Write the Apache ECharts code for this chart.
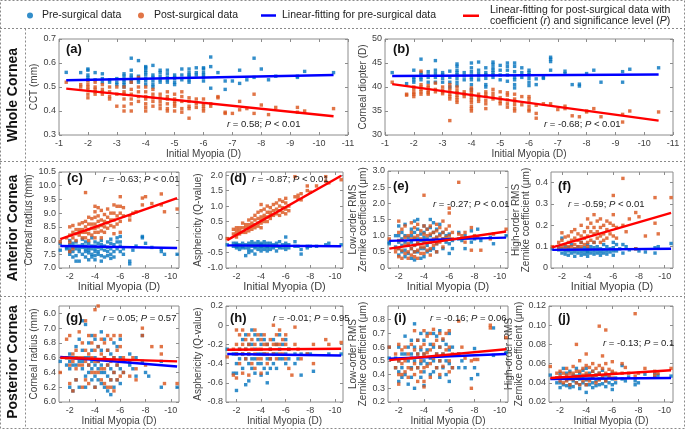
<!DOCTYPE html>
<html><head><meta charset="utf-8">
<script src="https://cdn.jsdelivr.net/npm/echarts@6/dist/echarts.min.js"></script>
<style>html,body{margin:0;padding:0;background:#fff}#c{width:685px;height:429px}</style>
</head><body><div id="c"></div><script>
// ---- data: rows are [myopia, y1, y2, ...] ----
const preA=[[-1.25,.561],[-1.75,.56],[-2,.575,.57,.55,.54,.53],[-2.25,.56,.53],[-2.5,.555,.535,.52],[-2.75,.53,.52],[-3,.535,.52,.51],[-3.25,.555,.545,.53,.52,.51,.5],[-3.5,.62,.57,.55,.54,.53,.52],[-3.75,.61,.545,.53,.52],[-4,.585,.58,.57,.56,.55,.535,.525,.51],[-4.25,.59,.55,.54,.525,.51,.5],[-4.5,.57,.56,.545,.53,.52],[-4.75,.57,.555,.54,.53,.52],[-5,.55,.54,.535,.52,.51],[-5.25,.575,.55,.53],[-5.5,.575,.56,.55,.545,.53,.52],[-5.75,.58,.56,.55],[-6,.58,.575,.56,.55,.54,.525],[-6.25,.625,.585,.495],[-6.5,.56],[-6.75,.525,.49],[-7,.525],[-7.25,.57,.515],[-7.5,.53],[-7.75,.62,.54],[-8,.575],[-8.25,.53],[-8.5,.545],[-9.25,.54,.545],[-9.5,.565],[-10.5,.56]];
const postA=[[-1.25,.52],[-1.75,.51,.5],[-2,.525,.51,.5,.49,.47,.455],[-2.25,.52,.5,.49,.48,.47],[-2.5,.51,.49,.48,.47],[-2.75,.5,.48,.46,.45],[-3,.5,.47,.42],[-3.25,.5,.48,.47,.45,.42,.4],[-3.5,.52,.49,.47,.45,.43,.4],[-3.75,.54,.5,.48,.46,.44],[-4,.5,.48,.46,.45,.43,.415,.4],[-4.25,.49,.47,.455,.44,.42],[-4.5,.47,.455,.44,.425,.41],[-4.75,.48,.46,.45,.43,.41,.4],[-5,.47,.45,.44,.43,.42,.4],[-5.25,.48,.46,.44,.41,.395],[-5.5,.455,.44,.42,.41,.37],[-5.75,.45,.43,.415],[-6,.45,.43,.42,.41,.4],[-6.25,.43,.42],[-6.5,.46,.455],[-6.75,.395,.39],[-7,.39],[-7.25,.44,.405],[-7.5,.41],[-7.75,.47,.39],[-8,.425],[-8.25,.385],[-8.5,.415],[-9.25,.415,.395],[-9.5,.4],[-10.5,.41]];
const preB=[[-1.25,43],[-1.75,40.7],[-2,43.5,42,41.5,41],[-2.25,45.8,43,42.5,42,41.5],[-2.5,43.2,42.5,42,41],[-2.75,45.5,43.5,42.8,42,41],[-3,43,42.5,41.8,41],[-3.25,43.3,42,41,40],[-3.5,44.8,44.3,43.5,43,42.5,41.8,41,40.3],[-3.75,43,42.3,41.5],[-4,45,44,43.2,42.5,42,41.5,40.5,39.5],[-4.25,45.2,43.5,42.8,42.3,41.5],[-4.5,44,43,42.5,41.8,40.5,40],[-4.75,45.2,44.7,44,43.5,43,42.5,42],[-5,44.5,43.5,42.5,41.5],[-5.25,45,44.3,43.5,42.5,41.2],[-5.5,45,44.3,43.2,42,41.5,40.5,39.8],[-5.75,44,43,42],[-6,43.5,43,42.5,41.8,41,40.3],[-6.25,41.7,40.5],[-6.5,42,41.8],[-6.75,46.2,45.8,45.3,43.5],[-7.25,43.3,42.8],[-7.5,40.5],[-7.75,40.6,40.2],[-8,42.8],[-8.25,43.5],[-8.5,41],[-9.25,43.2,41],[-9.5,43.7],[-10.5,44]];
const postB=[[-1.25,41],[-1.75,38.5,38.3],[-2,40,39.5,38.8,38.5,38],[-2.25,43.3,40.5,40,39.5,39,38.5],[-2.5,40.3,39.8,39.2,38.8,38.5],[-2.75,40.8,39.5,39],[-3,40,39.3,39,38.6],[-3.25,40.5,39.8,39.2,38.5,38,37.5,33],[-3.5,40,39.3,38.8,38.3,37.8,37.3,36.8],[-3.75,39,38.5,38],[-4,39.8,39.3,38.8,38.3,37.8,37.3,36.8,36,35.5,35],[-4.25,38.5,38,37.5,37],[-4.5,39,38.5,38,37.2,36.5,35.5],[-4.75,39.5,38.7,38,37.5],[-5,39,37.8,37,36.5],[-5.25,38.8,38.3,37.3,36.5,35.8],[-5.5,38.5,37.5,37,36.3,35.5,35],[-5.75,38,36.3],[-6,38,37.5,36.8,36,35.3,35],[-6.25,36.2,34.5,33.5],[-6.5,36.5],[-6.75,36.5],[-7,35.3],[-7.25,36,35.5],[-7.5,34],[-7.75,33.8],[-8,35,34.8],[-8.25,35.5],[-8.5,33.8],[-9.25,34.3,32.7],[-9.5,35],[-10.5,34.8]];
const preC=[[-1.25,7.65,7.9],[-1.75,7.75,7.7],[-2,8,7.85,7.7,7.6,7.5],[-2.25,7.9,7.75,7.6,7.4],[-2.5,7.95,7.8,7.7,7.45,7.25],[-2.75,7.8,7.7,7.6,7.25],[-3,8.05,7.85,7.75,7.5],[-3.25,7.95,7.8,7.7,7.6,7.4],[-3.5,7.9,7.75,7.65,7.55,7.3],[-3.75,8.1,7.8,7.7,7.5,7.4],[-4,7.95,7.8,7.7,7.6,7.45,7.3],[-4.25,7.9,7.75,7.6,7.5],[-4.5,8,7.85,7.7,7.45,7.25],[-4.75,7.8,7.65,7.4],[-5,7.95,7.75,7.6,7.45],[-5.25,8.05,7.9,7.7,7.5,7.35],[-5.5,7.85,7.6,7.4],[-5.75,8.1,7.95,7.7],[-6,8.15,7.95,7.8,7.6],[-6.25,7.7,7.5],[-6.75,7.25,7.15],[-7,7.65],[-7.25,7.8],[-7.75,8.15,8.1],[-8,7.9],[-8.5,7.75],[-9.25,7.6,7.7],[-9.5,7.5],[-10.5,7.5]];
const postC=[[-1.25,7.95],[-1.75,8.1],[-2,8.5,8.2,7.95,7.6],[-2.25,8.55,8.3,8.1,7.7],[-2.5,8.4,8.25,8],[-2.75,8.6,8.4,8.2,8.3],[-3,8.65,8.4,8.3,8.1],[-3.25,9.75,8.7,8.5,8.3,8.1],[-3.5,8.85,8.6,8.4,8.25,8],[-3.75,8.8,8.6,8.45,8.2],[-4,9.25,9.05,8.85,8.6,8.45,8.3,8.1],[-4.25,9.2,8.9,8.7,8.5,8.3],[-4.5,9.1,8.75,8.55,8.35,8.1],[-4.75,8.95,8.7,8.5,8.3],[-5,9.15,8.85,8.65,8.45],[-5.25,9,8.75,8.55],[-5.5,9.3,9,8.75,8.5,8.25],[-5.75,9.25,8.9,8.6],[-6,9.6,9.25,9,8.7,8.3],[-6.25,9.2,8.9],[-6.75,8.9,8.75],[-7,9],[-7.25,9.05],[-7.75,9.55,9.3],[-8,9.6],[-8.5,9.35],[-9.25,9.7,9.3],[-9.5,9.05],[-10.5,9.15]];
const preD=[[-1.25,-.25],[-1.75,-.2,-.3],[-2,-.2,-.25,-.3,-.35],[-2.25,-.25,-.3,-.4],[-2.5,-.2,-.3,-.35],[-2.75,-.25,-.35,-.6],[-3,-.2,-.3,-.4,-.5],[-3.25,-.15,-.25,-.3,-.45],[-3.5,-.2,-.3,-.35,-.55],[-3.75,-.15,-.25,-.3,-.4],[-4,-.2,-.25,-.3,-.35,-.45],[-4.25,-.15,-.25,-.3,-.4],[-4.5,-.2,-.3,-.35,-.45],[-4.75,-.2,-.3,-.4],[-5,-.25,-.3,-.35],[-5.25,-.2,-.3,-.45],[-5.5,-.15,-.3,-.35],[-5.75,-.25,-.35],[-6,0,-.2,-.3,-.4],[-6.25,-.25,-.35],[-6.75,-.15,-.3],[-7,-.3],[-7.25,-.4,-.55],[-7.75,-.3,-.35],[-8,-.3],[-8.5,-.3],[-9.25,-.25],[-9.5,-.2],[-10.5,-.25]];
const postD=[[-1.25,-.05],[-1.75,.1,.25],[-2,.3,.2,.1,0],[-2.25,.3,.2,.1],[-2.5,.45,.3,.15],[-2.75,.4,.3,.15],[-3,.55,.4,.3,.2],[-3.25,.6,.45,.35,.25],[-3.5,.7,.55,.4,.3],[-3.75,.8,.6,.45,.35],[-4,1.05,.85,.65,.55,.45,.3],[-4.25,.9,.7,.6,.5],[-4.5,1,.8,.65,.5],[-4.75,.95,.8,.7,.6],[-5,1.05,.85,.7],[-5.25,1.1,.9,.75],[-5.5,1.2,1,.85,.7],[-5.75,1.15,.95,.8],[-6,1.25,1.1,.9,.75],[-6.25,1,.85],[-6.75,1.95,1.3],[-7,1.25,1.35],[-7.25,1.4,1.2],[-7.75,1.65,1.5],[-8,1.45],[-8.5,1.65],[-9.25,1.95,1.8],[-9.5,1.75],[-10.5,1.85]];
const preE=[[-1.25,.8,.75],[-1.75,1,.65],[-2,1.3,1,.8,.6,.4],[-2.25,1.1,.9,.7,.5],[-2.5,1.35,1,.8,.55,.35],[-2.75,.95,.7,.45],[-3,1.2,1,.8,.6,.3],[-3.25,1.45,1.1,.9,.7,.5,.25],[-3.5,1.5,1.2,.9,.75,.5],[-3.75,1.05,.85,.6,.3],[-4,1.3,1.1,.95,.8,.6,.35],[-4.25,1.2,.9,.7,.5],[-4.5,1.5,1.25,1,.8,.55],[-4.75,1.4,1.1,.85,.6],[-5,1.2,.95,.75,.5],[-5.25,1.35,1.05,.85],[-5.5,1.1,.9,.6],[-5.75,1,.8],[-6,1.05,.9,.75,.45],[-6.25,.85,.6],[-6.75,1.1,.9],[-7,.85],[-7.25,1,.6],[-7.75,1.15,.8],[-8,.9],[-8.25,1.2],[-8.5,.85],[-9.25,.95],[-9.5,.75],[-10.5,1]];
const postE=[[-1.25,.9],[-1.75,.6,.5],[-2,1.45,1.1,.85,.6,.35],[-2.25,1.2,.85,.55,.3],[-2.5,1.3,.95,.7,.45],[-2.75,1,.75,.5,.3],[-3,1.4,1.1,.9,.6,.4],[-3.25,1.25,.95,.7,.5,.35],[-3.5,1.35,1,.8,.55,.3],[-3.75,1.15,.9,.65,.45],[-4,2.25,1.3,1.05,.85,.65,.45],[-4.25,1.2,1,.8,.55],[-4.5,1.3,1.05,.85,.6,.4],[-4.75,1.1,.9,.7],[-5,1.35,1.15,.95,.75,.5],[-5.25,1.25,1,.8],[-5.5,1.45,1.1,.9,.65],[-5.75,1.2,.95],[-6,1.85,1.7,1.3,1],[-6.25,1.1,.9],[-6.75,2.65,1.05],[-7,1],[-7.25,1.1,.8],[-7.75,.55,1.25],[-8,1],[-8.25,.95],[-8.5,.55],[-9.25,.9],[-9.5,1.05],[-10.5,1.2]];
const preF=[[-1.25,.09],[-1.75,.085,.1],[-2,.14,.09,.07],[-2.25,.1,.08,.065],[-2.5,.095,.08,.06],[-2.75,.11,.085,.07],[-3,.09,.075,.055],[-3.25,.1,.085,.07],[-3.5,.12,.09,.075,.06],[-3.75,.095,.08,.065],[-4,.11,.09,.08,.07,.055],[-4.25,.1,.085,.07],[-4.5,.12,.095,.08,.065],[-4.75,.1,.085,.07],[-5,.09,.075,.06],[-5.25,.11,.085,.07],[-5.5,.1,.08,.065],[-5.75,.09,.075],[-6,.12,.095,.08,.06],[-6.25,.11,.08],[-6.5,.09],[-6.75,.11,.07],[-7,.1],[-7.25,.085],[-7.75,.09],[-8,.08],[-8.5,.075],[-9.25,.095,.07],[-9.5,.1],[-10.5,.115]];
const postF=[[-1.25,.1],[-1.75,.12,.09],[-2,.165,.13,.1],[-2.25,.145,.11,.09],[-2.5,.15,.12,.1],[-2.75,.17,.13,.1],[-3,.18,.14,.11,.09],[-3.25,.16,.13,.1],[-3.5,.2,.15,.12,.1],[-3.75,.17,.14,.11],[-4,.23,.19,.15,.12,.1],[-4.25,.21,.17,.13],[-4.5,.25,.19,.16,.12],[-4.75,.22,.17,.14],[-5,.23,.19,.15,.12],[-5.25,.2,.16,.13],[-5.5,.22,.18,.14],[-5.75,.21,.16],[-6,.34,.25,.2,.15],[-6.25,.19,.14],[-6.75,.42,.2],[-7,.17],[-7.25,.23],[-7.75,.26,.09],[-8,.24],[-8.5,.15],[-9.25,.33,.21],[-9.5,.16],[-10.5,.33]];
const preG=[[-1.25,6.55],[-1.75,6.6,6.5],[-2,6.65,6.55,6.45,6.2],[-2.25,6.6,6.5,6.15],[-2.5,6.75,6.6,6.5,6.3],[-2.75,6.85,6.55,6.2],[-3,7.1,6.7,6.55,6.45],[-3.25,7.05,6.6,6.35,6.2],[-3.5,6.8,6.6,6.5,6.4],[-3.75,6.9,6.7,6.55,6.45,6.3],[-4,6.85,6.6,6.5,6.35,6.2],[-4.25,6.75,6.55,6.45,6.3],[-4.5,6.95,6.7,6.5,6.4,6.25],[-4.75,6.85,6.6,6.4,6.2],[-5,6.7,6.5,6.35,6.15],[-5.25,6.65,6.45,6.3,6.1],[-5.5,6.8,6.6,6.4,6.2],[-5.75,6.75,6.5,6.3],[-6,6.85,6.6,6.45,6.25],[-6.25,6.55,6.4],[-6.75,6.65,6.5],[-7,6.45],[-7.25,6.6,6.35],[-7.75,6.9,6.55],[-8,6.4],[-8.25,6.35],[-9.25,6.55,6.2],[-10.5,6.2]];
const postG=[[-1.25,6.4],[-1.75,6.6,6.85],[-2,6.9,6.6,6.5,6.25],[-2.25,6.65,6.55,6.15],[-2.5,6.7,6.6,6.45,6.3],[-2.75,6.95,6.6,6.5],[-3,6.8,6.6,6.5,6.2],[-3.25,7.1,6.7,6.55,6.3],[-3.5,6.9,6.65,6.5,6.25],[-3.75,6.8,6.6,6.4],[-4,7.25,6.9,6.7,6.55,6.4,6.2],[-4.25,7.3,6.75,6.55,6.4],[-4.5,6.85,6.65,6.45,6.3],[-4.75,6.8,6.6,6.45,6.25],[-5,6.9,6.7,6.5,6.2],[-5.25,6.85,6.55,6.3,6.2],[-5.5,6.9,6.6,6.4,6.15],[-5.75,6.7,6.5,6.3],[-6,6.9,6.75,6.55,6.35],[-6.25,6.6,6.4],[-6.75,6.55,6.35],[-7,6.6],[-7.25,6.45,6.3],[-7.75,7,6.9],[-8,6.5],[-8.5,6.75],[-9.25,6.75,6.65],[-9.5,6.25],[-10.5,6.25]];
const preH=[[-1.25,-.25],[-1.75,-.3,-.5],[-2,-.3,-.4,-.5,-.68],[-2.25,-.25,-.35],[-2.5,-.15,-.3,-.45],[-2.75,-.1,-.25,-.35,-.62],[-3,-.2,-.3,-.4,-.58],[-3.25,-.05,-.2,-.35,-.45],[-3.5,-.1,-.25,-.35,-.5],[-3.75,-.15,-.3,-.4],[-4,-.1,-.2,-.3,-.4,-.52],[-4.25,-.15,-.3,-.45],[-4.5,-.2,-.35,-.5,-.6],[-4.75,-.25,-.35,-.45],[-5,-.15,-.3,-.4],[-5.25,-.2,-.3,-.45],[-5.5,-.1,-.25,-.35],[-5.75,-.2,-.35],[-6,-.15,-.3,-.4],[-6.25,-.25,-.35],[-6.75,-.3,-.4],[-7,-.35],[-7.25,-.52,-.3],[-7.75,-.3],[-8,-.3],[-8.25,-.48],[-9.5,-.3],[-10.5,-.3]];
const postH=[[-1.25,-.33],[-1.75,-.25,-.52],[-2,-.05,-.2,-.3,-.55],[-2.25,-.1,-.25,-.4],[-2.5,-.05,-.2,-.3,-.5],[-2.75,-.15,-.25,-.35],[-3,-.1,-.2,-.3,-.52],[-3.25,-.15,-.25,-.4],[-3.5,-.05,-.2,-.3,-.45],[-3.75,-.1,-.25,-.35],[-4,-.15,-.25,-.35,-.5],[-4.25,-.1,-.2,-.3],[-4.5,-.2,-.3,-.4],[-4.75,-.15,-.25,-.35],[-5,0,-.2,-.3],[-5.25,-.1,-.2,-.35],[-5.5,-.05,-.2,-.3],[-5.75,-.15,-.3],[-6,-.1,-.2,-.35],[-6.25,-.25,-.45],[-6.5,-.52],[-6.75,-.02,-.2],[-7,-.25],[-7.25,-.35],[-7.75,-.3],[-8.25,-.2,-.4],[-9.25,-.15],[-9.5,-.2],[-10.5,-.18]];
const preI=[[-1.25,.6,.52],[-1.75,.52,.45],[-2,.6,.5,.42,.35],[-2.25,.55,.45,.38],[-2.5,.68,.55,.4],[-2.75,.6,.5,.33],[-3,.65,.55,.45,.38],[-3.25,.77,.6,.5,.3],[-3.5,.65,.55,.45],[-3.75,.7,.58,.48,.38],[-4,.65,.55,.5,.42,.32],[-4.25,.7,.58,.48],[-4.5,.62,.52,.4],[-4.75,.7,.6,.5,.42],[-5,.68,.55,.45],[-5.25,.72,.6,.5,.38],[-5.5,.65,.55,.45],[-5.75,.62,.5,.4],[-6,.7,.58,.48,.35],[-6.25,.6,.45],[-6.75,.55,.45],[-7,.5],[-7.25,.45],[-7.75,.37],[-8,.59,.45],[-8.25,.4],[-9.5,.74,.54],[-10.5,.56]];
const postI=[[-1.25,.6],[-1.75,.55,.45],[-2,.62,.5,.4,.33],[-2.25,.58,.48,.4],[-2.5,.6,.5,.42],[-2.75,.55,.45,.38],[-3,.62,.52,.44],[-3.25,.72,.58,.48,.4],[-3.5,.65,.55,.45,.35],[-3.75,.6,.5,.42],[-4,.72,.62,.55,.45,.35,.31],[-4.25,.68,.56,.46],[-4.5,.7,.58,.48,.38],[-4.75,.73,.62,.52],[-5,.65,.55,.45],[-5.25,.7,.6,.5,.4],[-5.5,.66,.55,.46],[-5.75,.7,.58],[-6,.72,.6,.5,.42],[-6.25,.55,.45],[-6.75,.79,.55],[-7,.6],[-7.25,.52],[-7.75,.3,.5],[-8,.51],[-8.25,.51],[-9.25,.76,.74],[-10.5,.67]];
const preJ=[[-1.25,.048],[-1.75,.045,.04],[-2,.05,.045,.04,.035],[-2.25,.055,.045,.038],[-2.5,.05,.043,.037],[-2.75,.052,.045,.038,.035],[-3,.048,.042,.036],[-3.25,.055,.047,.04],[-3.5,.05,.044,.038,.034],[-3.75,.053,.046,.04],[-4,.055,.048,.043,.038,.03],[-4.25,.05,.044,.038],[-4.5,.052,.046,.04,.035],[-4.75,.048,.042,.037],[-5,.05,.044,.038],[-5.25,.053,.045,.039],[-5.5,.048,.042,.036],[-5.75,.046,.04],[-6,.05,.044,.038,.033],[-6.25,.045,.04],[-6.75,.058,.044],[-7,.042],[-7.25,.046],[-7.75,.042,.038],[-8,.04],[-8.5,.049],[-9.25,.05,.046],[-9.5,.048],[-10.5,.047]];
const postJ=[[-1.25,.057],[-1.75,.05,.045],[-2,.052,.047,.042],[-2.25,.05,.045,.04],[-2.5,.055,.048,.042],[-2.75,.05,.044,.038],[-3,.057,.05,.044],[-3.25,.08,.052,.046,.04],[-3.5,.063,.052,.045,.038],[-3.75,.055,.048,.042],[-4,.07,.058,.05,.044,.038],[-4.25,.056,.048,.042],[-4.5,.06,.052,.045],[-4.75,.055,.048,.04],[-5,.099,.058,.05,.043],[-5.25,.068,.055,.047],[-5.5,.095,.06,.05,.042],[-5.75,.054,.046],[-6,.062,.052,.045],[-6.25,.05,.044],[-6.75,.06,.05],[-7,.056],[-7.25,.05],[-7.75,.112,.047],[-8,.05],[-8.5,.055],[-9.25,.052,.048],[-9.5,.05],[-10.5,.055]];
// fitted lines: [[x1,y1],[x2,y2]]
const fitPre={a:[[-1.25,.528],[-10.5,.55]],b:[[-1.25,42.3],[-10.5,42.6]],c:[[-1.25,7.8],[-10.5,7.73]],d:[[-1.25,-.27],[-10.5,-.3]],e:[[-1.25,.84],[-10.5,.94]],f:[[-1.25,.085],[-10.5,.09]],g:[[-1.25,6.61],[-10.5,6.48]],h:[[-1.25,-.3],[-10.5,-.315]],i:[[-1.25,.515],[-10.5,.55]],j:[[-1.25,.044],[-10.5,.045]]};
const fitPost={a:[[-1.25,.493],[-10.5,.378]],b:[[-1.25,40.6],[-10.5,33]],c:[[-1.25,8.05],[-10.5,9.55]],d:[[-1.25,-.1],[-10.5,1.98]],e:[[-1.25,.6],[-10.5,1.13]],f:[[-1.25,.097],[-10.5,.258]],g:[[-1.25,6.6],[-10.5,6.55]],h:[[-1.25,-.255],[-10.5,-.245]],i:[[-1.25,.505],[-10.5,.585]],j:[[-1.25,.045],[-10.5,.053]]};
const rText={a:['0.58','<','0.01'],b:['-0.68','<','0.01'],c:['-0.63','<','0.01'],d:['-0.87','<','0.01'],e:['-0.27','<','0.01'],f:['-0.59','<','0.01'],g:['0.05','=','0.57'],h:['-0.01','=','0.95'],i:['-0.16','=','0.06'],j:['-0.13','=','0.1']};
// tick values / labels
const xTicksWide=[-1,-2,-3,-4,-5,-6,-7,-8,-9,-10,-11];
const xTicksNarrow=[-2,-4,-6,-8,-10];
const yTicks={a:[.3,.4,.5,.6,.7],b:[30,35,40,45,50],c:[7,7.5,8,8.5,9,9.5,10,10.5],d:[-1,-.5,0,.5,1,1.5,2],e:[0,.5,1,1.5,2,2.5,3],f:[0,.1,.2,.3,.4],g:[6,6.2,6.4,6.6,6.8,7,7.2],h:[-.8,-.6,-.4,-.2,0,.2],i:[.2,.3,.4,.5,.6,.7,.8],j:[.02,.04,.06,.08,.1,.12]};
const yLabels={a:['0.3','0.4','0.5','0.6','0.7'],b:['30','35','40','45','50'],c:['7.0','7.5','8.0','8.5','9.0','9.5','10.0','10.5'],d:['-1.0','-0.5','0','0.5','1.0','1.5','2.0'],e:['0','0.5','1.0','1.5','2.0','2.5','3.0'],f:['0','0.1','0.2','0.3','0.4'],g:['6.0','6.2','6.4','6.6','6.8','7.0','6.0'],h:['-0.8','-0.6','-0.4','-0.2','0','0.2'],i:['0.2','0.3','0.4','0.5','0.6','0.7','0.8'],j:['0.02','0.04','0.06','0.08','0.10','0.12']};
const yNames={a:'CCT (mm)',b:'Corneal diopter (D)',c:'Corneal radius (mm)',d:'Asphericity (Q-value)',e:'Low-order RMS\nZernike coefficient (\u03bcm)',f:'High-order RMS\nZernike coefficient (\u03bcm)',g:'Corneal radius (mm)',h:'Asphericity (Q-value)',i:'Low-order RMS\nZernike coefficient (\u03bcm)',j:'High-order RMS\nZernike coefficient (\u03bcm)'};
const dataPre={a:preA,b:preB,c:preC,d:preD,e:preE,f:preF,g:preG,h:preH,i:preI,j:preJ};
const dataPost={a:postA,b:postB,c:postC,d:postD,e:postE,f:postF,g:postG,h:postH,i:postI,j:postJ};

// ---- layout (positions/styles) ----
const FONT='Liberation Sans';
const L=[
 {id:'a',g:[59,39,289,96],x:[-11,-1],xt:xTicksWide,y:[.3,.7],xg:13,xf:10,yg:20,lab:[66,43],rt:[227,119]},
 {id:'b',g:[385,39,288,96],x:[-11,-1],xt:xTicksWide,y:[30,50],xg:13,xf:10,yg:17,lab:[393,43],rt:[544,119]},
 {id:'c',g:[59,172,120,96],x:[-10.65,-1.15],xt:xTicksNarrow,y:[7,10.5],xg:11,xf:11,yg:18,lab:[67,172],rt:[103,174]},
 {id:'d',g:[226,172,117,96],x:[-10.65,-1.15],xt:xTicksNarrow,y:[-1,2.1],xg:11,xf:11,yg:22,lab:[230,172],rt:[252,174]},
 {id:'e',g:[388,171,120,97],x:[-10.65,-1.15],xt:xTicksNarrow,y:[0,3],xg:11,xf:11,yg:16,lab:[393,180],rt:[433,199]},
 {id:'f',g:[551,172,122,96],x:[-10.65,-1.15],xt:xTicksNarrow,y:[0,.45],xg:11,xf:11,yg:16,lab:[558,180],rt:[568,199]},
 {id:'g',g:[59,306,120,96],x:[-10.65,-1.15],xt:xTicksNarrow,y:[6,7.3],xg:13,xf:10,yg:18,lab:[66,312],rt:[103,313]},
 {id:'h',g:[226,306,117,96],x:[-10.65,-1.15],xt:xTicksNarrow,y:[-.8,.2],xg:13,xf:10,yg:22,lab:[230,312],rt:[273,313]},
 {id:'i',g:[388,306,120,96],x:[-10.65,-1.15],xt:xTicksNarrow,y:[.2,.9],xg:13,xf:10,yg:16,lab:[394,312],rt:[430,313]},
 {id:'j',g:[549,306,124,96],x:[-10.65,-1.15],xt:xTicksNarrow,y:[.02,.12],xg:13,xf:10,yg:15,lab:[558,312],rt:[603,338]}
];
const AX='#8c8c8c', TX='#404040';
const expand=rows=>rows.flatMap(r=>r.slice(1).map(v=>[r[0],v]));
const grid=[],xAxis=[],yAxis=[],series=[],title=[];
const N1='Pre-surgical data',N2='Post-surgical data',N3='Linear-fitting for pre-surgical data',N4='Linear-fitting for post-surgical data with coefficient (r) and significance level (P)';
L.forEach((p,k)=>{
  grid.push({left:p.g[0],top:p.g[1],width:p.g[2],height:p.g[3],show:true,borderColor:AX,borderWidth:1,backgroundColor:'transparent'});
  const tick={show:true,inside:true,length:3,lineStyle:{color:AX}};
  const xb={type:'value',gridIndex:k,min:p.x[0],max:p.x[1],inverse:true,splitLine:{show:false},axisLine:{show:false,onZero:false}};
  xAxis.push(Object.assign({},xb,{position:'bottom',axisTick:Object.assign({customValues:p.xt},tick),
    axisLabel:{customValues:p.xt,fontSize:9,color:TX,margin:4,fontFamily:FONT,formatter:v=>String(v)},
    name:'Initial Myopia (D)',nameLocation:'middle',nameGap:p.xg,nameTextStyle:{fontSize:p.xf,color:TX,fontFamily:FONT}}));
  xAxis.push(Object.assign({},xb,{position:'top',axisTick:Object.assign({customValues:p.xt},tick),axisLabel:{show:false}}));
  const yt=yTicks[p.id], yl=yLabels[p.id];
  const yb={type:'value',gridIndex:k,min:p.y[0],max:p.y[1],splitLine:{show:false},axisLine:{show:false,onZero:false}};
  yAxis.push(Object.assign({},yb,{position:'left',axisTick:Object.assign({customValues:yt},tick),
    axisLabel:{customValues:yt,fontSize:9,color:TX,margin:3,fontFamily:FONT,formatter:v=>{let i=yt.findIndex(t=>Math.abs(t-v)<1e-9);return i<0?'':yl[i];}},
    name:yNames[p.id],nameLocation:'middle',nameGap:p.yg,nameTextStyle:{fontSize:10,lineHeight:10.5,color:TX,fontFamily:FONT}}));
  yAxis.push(Object.assign({},yb,{position:'right',axisTick:Object.assign({customValues:yt},tick),axisLabel:{show:false}}));
  const xi=2*k, yi=2*k;
  series.push({type:'scatter',name:N1,xAxisIndex:xi,yAxisIndex:yi,symbol:'rect',symbolSize:3.4,color:'#0072BD',itemStyle:{color:'#0072BD'},data:expand(dataPre[p.id]),z:2});
  series.push({type:'scatter',name:N2,xAxisIndex:xi,yAxisIndex:yi,symbol:'rect',symbolSize:3.4,color:'#D95319',itemStyle:{color:'#D95319'},data:expand(dataPost[p.id]),z:2});
  series.push({type:'line',name:N3,xAxisIndex:xi,yAxisIndex:yi,showSymbol:false,color:'#0000FF',itemStyle:{color:'#0000FF'},lineStyle:{color:'#0000FF',width:2.4},data:fitPre[p.id],z:3});
  series.push({type:'line',name:N4,xAxisIndex:xi,yAxisIndex:yi,showSymbol:false,color:'#FF0000',itemStyle:{color:'#FF0000'},lineStyle:{color:'#FF0000',width:2.4},data:fitPost[p.id],z:3});
  title.push({text:'('+p.id+')',left:p.lab[0],top:p.lab[1],padding:0,textStyle:{fontSize:13,fontWeight:'bold',color:'#111',fontFamily:FONT}});
  const r=rText[p.id];
  title.push({text:'{i|r} = '+r[0]+'; {i|P} '+r[1]+' '+r[2],left:p.rt[0],top:p.rt[1],padding:0,
    textStyle:{fontSize:9.5,fontWeight:'normal',color:'#222',fontFamily:FONT,rich:{i:{fontStyle:'italic',fontSize:9.5,color:'#222',fontFamily:FONT}}}});
});
const legTS={fontSize:10.5,color:'#222',fontFamily:FONT};
const legend=[
 {data:[N1],left:27,top:10,itemWidth:6,itemHeight:6,icon:'circle',padding:0,selectedMode:false,textStyle:Object.assign({padding:[0,0,0,4]},legTS)},
 {data:[N2],left:138,top:10,itemWidth:6,itemHeight:6,icon:'circle',padding:0,selectedMode:false,textStyle:Object.assign({padding:[0,0,0,5]},legTS)},
 {data:[N3],left:261,top:10,itemWidth:15,itemHeight:2.5,icon:'rect',padding:0,selectedMode:false,textStyle:Object.assign({padding:[0,0,0,1]},legTS)},
 {data:[N4],left:463,top:5,itemWidth:16,itemHeight:2.5,icon:'rect',padding:0,selectedMode:false,
   formatter:()=>'{n|Linear-fitting for post-surgical data with}\n{n|coefficient (}{i|r}{n|) and significance level (}{i|P}{n|)}',
   textStyle:Object.assign({padding:[0,0,0,6],rich:{n:{fontSize:10.5,lineHeight:10.5,color:'#222',fontFamily:FONT},i:{fontSize:10.5,lineHeight:10.5,fontStyle:'italic',color:'#222',fontFamily:FONT}}},legTS)}
];
const dash={stroke:'#8a8a8a',lineWidth:1,lineDash:[2,2],fill:null};
const graphic=[
 {type:'rect',shape:{x:0.5,y:0.5,width:684,height:428},style:dash,silent:true},
 {type:'line',shape:{x1:0,y1:28.5,x2:685,y2:28.5},style:dash,silent:true},
 {type:'line',shape:{x1:0,y1:161.5,x2:685,y2:161.5},style:dash,silent:true},
 {type:'line',shape:{x1:0,y1:296.5,x2:685,y2:296.5},style:dash,silent:true},
 {type:'line',shape:{x1:25.5,y1:28.5,x2:25.5,y2:429},style:dash,silent:true},
 {type:'text',x:13,y:95,rotation:Math.PI/2,style:{text:'Whole Cornea',font:'bold 14px "Liberation Sans"',fill:'#111',textAlign:'center',textVerticalAlign:'middle'}},
 {type:'text',x:13,y:228,rotation:Math.PI/2,style:{text:'Anterior Cornea',font:'bold 14px "Liberation Sans"',fill:'#111',textAlign:'center',textVerticalAlign:'middle'}},
 {type:'text',x:13,y:362,rotation:Math.PI/2,style:{text:'Posterior Cornea',font:'bold 14px "Liberation Sans"',fill:'#111',textAlign:'center',textVerticalAlign:'middle'}}
];
const chart=echarts.init(document.getElementById('c'),null,{renderer:'canvas'});
chart.setOption({animation:false,backgroundColor:'#fff',textStyle:{fontFamily:FONT},grid,xAxis,yAxis,series,title,legend,graphic});
</script></body></html>
